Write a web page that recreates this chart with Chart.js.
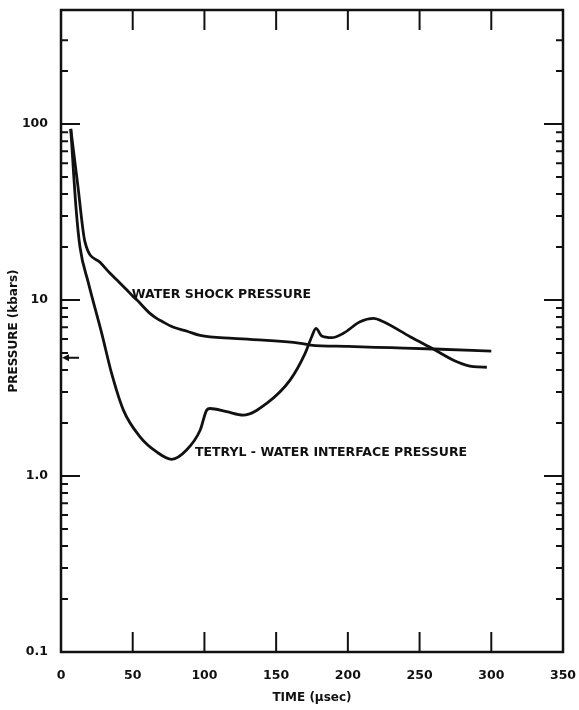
<!DOCTYPE html>
<html lang="en">
<head>
<meta charset="utf-8">
<title>Pressure vs time</title>
<script src="https://cdn.jsdelivr.net/npm/chart.js@4/dist/chart.umd.min.js"></script>
<style>
    html, body { margin: 0; padding: 0; background: #fff; }
    #chart { display: block; }
</style>
</head>
<body>
<canvas id="chart" width="579" height="710"></canvas>
<script>
// Data (time in µsec, pressure in kbars)
const waterTime = [6.8, 11.7, 16.7, 27.2, 34.2, 39, 46, 50.4, 53, 62, 66.7, 70, 78, 88, 97, 120, 132, 167, 174, 200, 230, 260, 300];
const waterPressure = [94, 45, 21.4, 16.4, 14.2, 13.0, 11.4, 10.45, 10.0, 8.4, 7.87, 7.6, 7.03, 6.65, 6.3, 6.06, 5.98, 5.68, 5.55, 5.45, 5.36, 5.27, 5.13];

const tetrylTime = [6.8, 10.5, 13.2, 19, 28.4, 35.3, 43.5, 55.1, 66.7, 77.2, 87.7, 97, 101.6, 103.9, 115.5, 127.1, 143.4, 159.7, 170.2, 174.8, 177.8, 181.8, 188.8, 196.9, 208.5, 217.8, 224.8, 243.4, 259.6, 276, 287.5, 296.9];
const tetrylPressure = [94, 33.2, 20.1, 12.6, 6.47, 3.83, 2.37, 1.67, 1.37, 1.245, 1.41, 1.82, 2.37, 2.42, 2.32, 2.22, 2.59, 3.51, 4.98, 6.19, 6.9, 6.24, 6.11, 6.47, 7.53, 7.87, 7.53, 6.19, 5.27, 4.46, 4.18, 4.15];

// Axis ticks
const xTicks = [0, 50, 100, 150, 200, 250, 300, 350];
const yTicks = [0.1, 1, 10, 100];
const yTickLabels = ['0.1', '1.0', '10', '100'];
const yMinorTicks = [
    0.2, 0.3, 0.4, 0.5, 0.6, 0.7, 0.8, 0.9,
    2, 3, 4, 5, 6, 7, 8, 9,
    20, 30, 40, 50, 60, 70, 80, 90,
    200, 300
];

// Curve labels and the marker on the pressure axis
const waterLabel = { text: 'WATER SHOCK PRESSURE', x: 49.3, y: 10.7 };
const tetrylLabel = { text: 'TETRYL - WATER INTERFACE PRESSURE', x: 93.4, y: 1.35 };
const arrowValue = 4.7;

const ink = '#111';
const labelFont = 'bold 12.5px "DejaVu Sans", sans-serif';

/**
 * Frame, inward ticks, curve labels and the axis arrow
 */
const framePlugin = {
    id: 'frame',
    beforeDraw: (chart) => {
        const { ctx, width, height } = chart;
        ctx.save();
        ctx.fillStyle = '#fff';
        ctx.fillRect(0, 0, width, height);
        ctx.restore();
    },
    afterDraw: (chart) => {
        const { ctx, chartArea: a } = chart;
        const xs = chart.scales.x;
        const ys = chart.scales.y;

        ctx.save();
        ctx.strokeStyle = ink;
        ctx.fillStyle = ink;
        ctx.lineCap = 'butt';

        // frame
        ctx.lineWidth = 2.5;
        ctx.strokeRect(a.left, a.top, a.right - a.left, a.bottom - a.top);

        // x ticks on bottom and top
        ctx.lineWidth = 2;
        ctx.beginPath();
        xTicks.forEach((v) => {
            if (v === xs.min || v === xs.max) return;
            const px = xs.getPixelForValue(v);
            ctx.moveTo(px, a.bottom);
            ctx.lineTo(px, a.bottom - 20);
            ctx.moveTo(px, a.top);
            ctx.lineTo(px, a.top + 20);
        });
        ctx.stroke();

        // y decade ticks on both sides
        ctx.beginPath();
        yTicks.forEach((v) => {
            if (v === ys.min) return;
            const py = ys.getPixelForValue(v);
            ctx.moveTo(a.left, py);
            ctx.lineTo(a.left + 19, py);
            ctx.moveTo(a.right, py);
            ctx.lineTo(a.right - 19, py);
        });
        ctx.stroke();

        // y minor ticks
        ctx.beginPath();
        yMinorTicks.forEach((v) => {
            const py = ys.getPixelForValue(v);
            ctx.moveTo(a.left, py);
            ctx.lineTo(a.left + 7, py);
            ctx.moveTo(a.right, py);
            ctx.lineTo(a.right - 7, py);
        });
        ctx.stroke();

        // arrow on the pressure axis
        const ay = ys.getPixelForValue(arrowValue);
        ctx.lineWidth = 2;
        ctx.beginPath();
        ctx.moveTo(a.left + 5, ay);
        ctx.lineTo(a.left + 18, ay);
        ctx.stroke();
        ctx.beginPath();
        ctx.moveTo(a.left + 1, ay);
        ctx.lineTo(a.left + 8, ay - 3.5);
        ctx.lineTo(a.left + 8, ay + 3.5);
        ctx.closePath();
        ctx.fill();

        // curve labels
        ctx.font = labelFont;
        ctx.textAlign = 'left';
        ctx.textBaseline = 'middle';
        [waterLabel, tetrylLabel].forEach((l) => {
            ctx.fillText(l.text, xs.getPixelForValue(l.x), ys.getPixelForValue(l.y));
        });

        ctx.restore();
    }
};

window.addEventListener('DOMContentLoaded', () => {
    const canvas = document.getElementById('chart');
    if (!canvas) return;

    const toPoints = (xs, ys) => xs.map((x, i) => ({ x, y: ys[i] }));

    const lineStyle = {
        borderColor: ink,
        borderWidth: 2.8,
        pointRadius: 0,
        fill: false,
        cubicInterpolationMode: 'monotone'
    };

    const tickFont = { family: 'DejaVu Sans', weight: 'bold', size: 12.5 };
    const titleFont = { family: 'DejaVu Sans', weight: 'bold', size: 12 };

    new Chart(canvas, {
        type: 'line',
        data: {
            datasets: [
                { label: 'Water shock pressure', data: toPoints(waterTime, waterPressure), ...lineStyle },
                { label: 'Tetryl-water interface pressure', data: toPoints(tetrylTime, tetrylPressure), ...lineStyle }
            ]
        },
        options: {
            responsive: false,
            animation: false,
            devicePixelRatio: 1,
            layout: { padding: { top: 10, right: 16, bottom: 0, left: 0 } },
            plugins: {
                legend: { display: false },
                tooltip: { enabled: false }
            },
            scales: {
                x: {
                    type: 'linear',
                    min: 0,
                    max: 350,
                    afterBuildTicks: (s) => {
                        s.ticks = xTicks.map((v) => ({ value: v }));
                    },
                    afterFit: (s) => {
                        // keep the plot frame where the figure has it
                        s.height = 58;
                        s.paddingLeft = 0;
                        s.paddingRight = 0;
                    },
                    grid: { display: false },
                    border: { display: false },
                    ticks: {
                        color: ink,
                        font: tickFont,
                        padding: 8,
                        maxRotation: 0,
                        autoSkip: false
                    },
                    title: {
                        display: true,
                        text: 'TIME (\u03bcsec)',
                        color: ink,
                        font: titleFont,
                        padding: { top: 0, bottom: 5 }
                    }
                },
                y: {
                    type: 'logarithmic',
                    min: 0.1,
                    max: 445,
                    afterBuildTicks: (s) => {
                        s.ticks = yTicks.map((v) => ({ value: v }));
                    },
                    afterFit: (s) => {
                        s.width = 61;
                        s.paddingTop = 0;
                        s.paddingBottom = 0;
                    },
                    grid: { display: false },
                    border: { display: false },
                    ticks: {
                        color: ink,
                        font: tickFont,
                        padding: 5,
                        autoSkip: false,
                        callback: (v, i) => yTickLabels[i]
                    },
                    title: {
                        display: true,
                        text: 'PRESSURE (kbars)',
                        color: ink,
                        font: titleFont,
                        padding: { top: 7, bottom: 0 }
                    }
                }
            }
        },
        plugins: [framePlugin]
    });
});
</script>
</body>
</html>
